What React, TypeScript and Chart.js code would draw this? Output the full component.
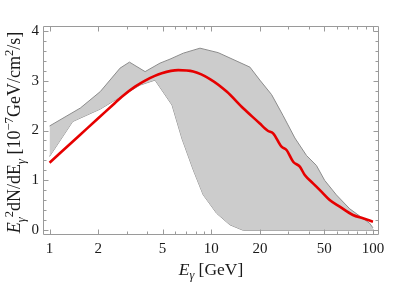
import { useEffect, useRef } from 'react';
import { Chart, registerables } from 'chart.js';
Chart.register(...registerables);

// Band (upper/lower edge) and the red model curve, E in GeV, value in 1e-7 GeV/cm^2/s
const upperE = [1.0, 1.55, 2.06, 2.73, 3.12, 3.9, 4.82, 5.56, 6.72, 8.52, 11.04, 17.34, 19.98, 23.6, 27.8, 32.9, 38.8, 44.7, 50.3, 59.4, 71.9, 95.5, 100];
const upperV = [2.09, 2.45, 2.78, 3.25, 3.37, 3.18, 3.35, 3.43, 3.55, 3.65, 3.56, 3.27, 3.01, 2.72, 2.3, 1.85, 1.5, 1.3, 1.0, 0.71, 0.43, 0.14, 0.05];
const lowerE = [1.0, 1.39, 2.06, 3.0, 3.63, 4.49, 5.72, 6.6, 7.74, 8.92, 10.8, 13.04, 15.76, 100];
const lowerV = [1.48, 2.18, 2.43, 2.75, 2.91, 3.01, 2.51, 1.83, 1.21, 0.71, 0.34, 0.11, 0.0, 0.0];
const redE = [1.0, 1.5, 2.0, 2.5, 2.8, 3.38, 3.9, 4.94, 6.25, 7.74, 9.82, 12.45, 15.76, 19.98, 21.5, 22.48, 24.13, 27.2, 29.2, 32.1, 35.3, 37.87, 42.6, 48.0, 54.0, 62.3, 75.2, 86.75, 100];
const redV = [1.355, 1.876, 2.245, 2.532, 2.677, 2.878, 3.0, 3.146, 3.21, 3.18, 3.03, 2.78, 2.445, 2.14, 2.04, 1.99, 1.944, 1.675, 1.609, 1.375, 1.275, 1.108, 0.942, 0.774, 0.607, 0.473, 0.307, 0.24, 0.172];

const xMajor = [1, 2, 5, 10, 20, 50, 100];
const xMinor = [3, 4, 6, 7, 8, 9, 30, 40, 60, 70, 80, 90];
const yMajor = [0, 1, 2, 3, 4];
const yMinor = [0.2, 0.4, 0.6, 0.8, 1.2, 1.4, 1.6, 1.8, 2.2, 2.4, 2.6, 2.8, 3.2, 3.4, 3.6, 3.8];

const FONT = '"Liberation Serif", "Times New Roman", serif';
const FRAME = '#9a9a9a';

type Part = { t: string; it?: boolean; sc?: number; dy?: number };

function drawParts(ctx: CanvasRenderingContext2D, parts: Part[], size: number, cx: number, by: number) {
  const font = (p: Part) => `${p.it ? 'italic ' : ''}${Math.round(size * (p.sc || 1) * 10) / 10}px ${FONT}`;
  let total = 0;
  const widths = parts.map((p) => {
    ctx.font = font(p);
    const w = ctx.measureText(p.t).width;
    total += w;
    return w;
  });
  let x = cx - total / 2;
  ctx.textBaseline = 'alphabetic';
  ctx.textAlign = 'left';
  parts.forEach((p, i) => {
    ctx.font = font(p);
    ctx.fillText(p.t, x, by + (p.dy || 0) * size);
    x += widths[i];
  });
}

const framePlugin = {
  id: 'frameTicks',
  afterDatasetsDraw(chart: any) {
    const { ctx, chartArea: a, scales } = chart;
    const xs = scales.x;
    const ys = scales.y;
    ctx.save();
    ctx.strokeStyle = FRAME;
    ctx.lineWidth = 1;
    ctx.beginPath();
    const L = Math.round(a.left) + 0.5, R = Math.round(a.right) - 0.5;
    const T = Math.round(a.top) + 0.5, B = Math.round(a.bottom) - 0.5;
    ctx.rect(L, T, R - L, B - T);
    const xt = (v: number, len: number) => {
      const p = Math.round(xs.getPixelForValue(v)) + 0.5;
      ctx.moveTo(p, B); ctx.lineTo(p, B - len);
      ctx.moveTo(p, T); ctx.lineTo(p, T + len);
    };
    const yt = (v: number, len: number) => {
      const p = Math.round(ys.getPixelForValue(v)) + 0.5;
      ctx.moveTo(L, p); ctx.lineTo(L + len, p);
      ctx.moveTo(R, p); ctx.lineTo(R - len, p);
    };
    xMajor.forEach((v) => xt(v, 5));
    xMinor.forEach((v) => xt(v, 3));
    yMajor.forEach((v) => yt(v, 5));
    yMinor.forEach((v) => yt(v, 3));
    ctx.stroke();

    ctx.fillStyle = '#1a1a1a';
    // x title
    drawParts(ctx, [
      { t: 'E', it: true },
      { t: 'γ', it: true, sc: 0.7, dy: 0.25 },
      { t: ' [GeV]' },
    ], 17.5, (a.left + a.right) / 2, 275);
    // y title (rotated)
    ctx.save();
    ctx.translate(20, 132.5);
    ctx.rotate(-Math.PI / 2);
    drawParts(ctx, [
      { t: 'E', it: true },
      { t: 'γ', it: true, sc: 0.7, dy: 0.25 },
      { t: '2', sc: 0.7, dy: -0.4 },
      { t: 'dN/dE' },
      { t: 'γ', it: true, sc: 0.7, dy: 0.25 },
      { t: ' [10' },
      { t: '−7', sc: 0.7, dy: -0.4 },
      { t: 'GeV/cm' },
      { t: '2', sc: 0.7, dy: -0.4 },
      { t: '/s]' },
    ], 18, 0, 0);
    ctx.restore();
    ctx.restore();
  },
};

export default function App() {
  const ref = useRef<HTMLCanvasElement>(null);
  useEffect(() => {
    if (!ref.current) return;
    const pts = (xs: number[], ys: number[]) => xs.map((x, i) => ({ x, y: ys[i] }));
    const chart = new Chart(ref.current, {
      type: 'line',
      data: {
        datasets: [
          {
            data: pts(redE, redV),
            borderColor: '#e60000',
            borderWidth: 2.6,
            pointRadius: 0,
            fill: false,
            cubicInterpolationMode: 'monotone',
          },
          {
            data: pts(upperE, upperV),
            borderColor: '#8c8c8c',
            borderWidth: 1,
            backgroundColor: '#cccccc',
            pointRadius: 0,
            fill: '+1',
            tension: 0,
          },
          {
            data: pts(lowerE, lowerV),
            borderColor: '#8c8c8c',
            borderWidth: 1,
            pointRadius: 0,
            fill: false,
            tension: 0,
          },
        ],
      },
      options: {
        animation: false,
        responsive: false,
        maintainAspectRatio: false,
        layout: { padding: { left: 0, top: 26, right: 24, bottom: 0 } },
        plugins: { legend: { display: false }, tooltip: { enabled: false } },
        scales: {
          x: {
            type: 'logarithmic',
            min: 0.911,
            max: 109,
            grid: { display: false, drawTicks: false },
            border: { display: false },
            afterBuildTicks: (s: any) => { s.ticks = xMajor.map((v) => ({ value: v })); },
            afterFit: (s: any) => { s.height = 47; },
            ticks: {
              autoSkip: false,
              maxRotation: 0,
              padding: 5,
              color: '#1a1a1a',
              font: { family: FONT, size: 15 },
              callback: (v: any) => String(v),
            },
          },
          y: {
            type: 'linear',
            min: -0.094,
            max: 4.094,
            grid: { display: false, drawTicks: false },
            border: { display: false },
            afterBuildTicks: (s: any) => { s.ticks = yMajor.map((v) => ({ value: v })); },
            afterFit: (s: any) => { s.width = 43; },
            ticks: {
              autoSkip: false,
              padding: 4,
              color: '#1a1a1a',
              font: { family: FONT, size: 15 },
              callback: (v: any) => String(v),
            },
          },
        },
      },
      plugins: [framePlugin],
    });
    return () => chart.destroy();
  }, []);
  return (
    <div style={{ position: 'absolute', left: 0, top: 0, width: 403, height: 282, background: '#fff' }}>
      <canvas ref={ref} width={403} height={282} style={{ width: 403, height: 282, display: 'block' }} />
    </div>
  );
}
